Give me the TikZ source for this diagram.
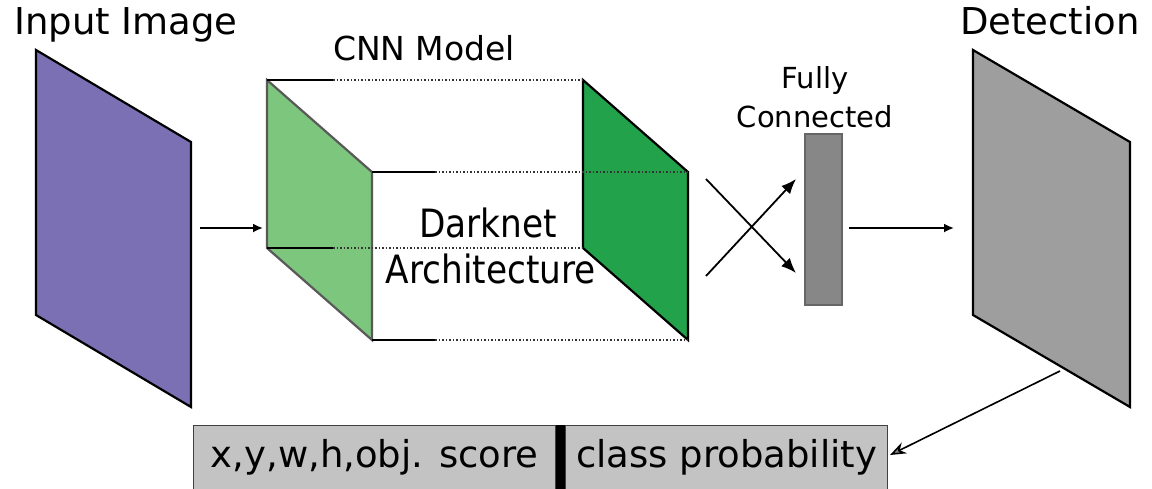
\documentclass[tikz,border=0pt]{standalone}
\usepackage{fontspec}
\setmainfont{DejaVu Sans}
\newfontfamily\condfont[FakeStretch=0.88]{DejaVu Sans}
\usetikzlibrary{arrows.meta}

\definecolor{imgpurple}{RGB}{123,112,179}
\definecolor{lightgreen}{RGB}{125,198,125}
\definecolor{darkgreen}{RGB}{34,162,74}
\definecolor{detgray}{RGB}{158,158,158}
\definecolor{fcgray}{RGB}{135,135,135}
\definecolor{boxgray}{RGB}{195,195,195}

\tikzset{
    bigtext/.style={font=\fontsize{37}{40}\selectfont, inner sep=0pt},
    midtext/.style={font=\fontsize{33}{36}\selectfont, inner sep=0pt},
    smalltext/.style={font=\fontsize{29}{32}\selectfont, inner sep=0pt},
    archtext/.style={font=\condfont\fontsize{39}{42}\selectfont, inner sep=0pt},
    fieldbox/.style={draw=black!75, line width=1.2pt, fill=boxgray, anchor=north west,
        inner sep=0pt, text height=42pt, text depth=32pt,
        font=\fontsize{37}{40}\selectfont},
    fcbar/.style={draw=black!60, line width=1.2pt, fill=fcgray, minimum width=37pt,
        minimum height=171pt, inner sep=0pt},
    flow/.style={line width=1.8pt, -{Latex[length=10pt,width=9pt]}},
    cross/.style={line width=1.8pt, -{Latex[length=15pt,width=12pt]}},
    guide/.style={line width=1.7pt},
    hidden/.style={line width=1.5pt, dotted, black!80}
}

\begin{document}
\begin{tikzpicture}[x=1pt,y=-1pt]
    \clip (0,0) rectangle (1152,488);
    
    % input image
    \draw[fill=imgpurple, line width=2.2pt] (36,50) -- (191,142) -- (191,407) -- (36,315) -- cycle;
    \node[bigtext, anchor=base] (inlabel) at (126,34) {Input Image};
    
    % cnn model
    \draw[fill=lightgreen, draw=black!65, line width=2.2pt] (267,80) -- (372,172) -- (372,340) -- (267,248) -- cycle;
    \draw[fill=darkgreen, line width=2.2pt] (583,80) -- (688,172) -- (688,340) -- (583,248) -- cycle;
    \draw[guide] (267,80) -- (333,80);
    \draw[hidden] (333,80) -- (583,80);
    \draw[guide] (267,248) -- (333,248);
    \draw[hidden] (333,248) -- (583,248);
    \draw[guide] (372,172) -- (435,172);
    \draw[hidden] (435,172) -- (688,172);
    \draw[guide] (372,340) -- (435,340);
    \draw[hidden] (435,340) -- (688,340);
    \node[midtext, anchor=base] (cnnlabel) at (424,60) {CNN Model};
    \node[archtext, anchor=base] (darknet) at (488,237) {Darknet};
    \node[archtext, anchor=base] (arch) at (491,283) {Architecture};
    
    % fully connected
    \node[fcbar] (fc) at (823.5,219.5) {};
    \node[smalltext, anchor=base] (fully) at (815,88) {Fully};
    \node[smalltext, anchor=base] (connected) at (815,127) {Connected};
    
    % detection
    \draw[fill=detgray, line width=2.2pt] (973,50) -- (1130,142) -- (1130,407) -- (973,315) -- cycle;
    \node[bigtext, anchor=base] (detlabel) at (1050,34) {Detection};
    
    % output vector
    \node[fieldbox, minimum width=362pt] (score) at (193,425) {x,y,w,h,obj. score};
    \node[fieldbox, minimum width=322pt] (prob) at (565,425) {class probability};
    \fill[black] (score.north east) rectangle (prob.south west);
    
    % connectors
    \coordinate (inout) at (200,228);
    \coordinate (cubein) at (263,228);
    \coordinate (cubeup) at (706,179);
    \coordinate (cubedown) at (706,276);
    \coordinate (fcup) at (796,179);
    \coordinate (fcdown) at (796,273);
    \coordinate (fcout) at (849,228);
    \coordinate (detin) at (954,228);
    \coordinate (detout) at (1060,371);
    \coordinate (probin) at (890,455);
    \draw[flow] (inout) -- (cubein);
    \draw[cross] (cubeup) -- (fcdown);
    \draw[cross] (cubedown) -- (fcup);
    \draw[flow] (fcout) -- (detin);
    \draw[line width=1.6pt, -{Stealth[length=16pt,width=12pt,fill=black!45]}] (detout) -- (probin);
    
\end{tikzpicture}
\end{document}
